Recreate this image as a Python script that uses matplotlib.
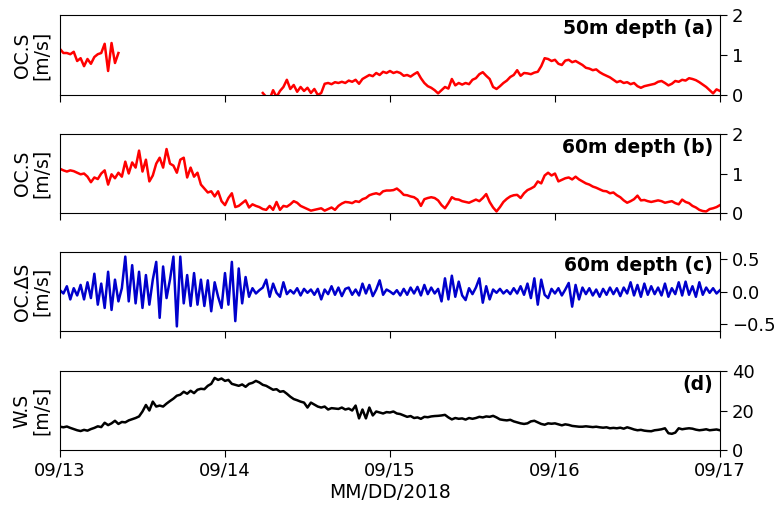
import numpy as np
import pandas as pd
import matplotlib
matplotlib.use("Agg")
import matplotlib.pyplot as plt
import matplotlib.dates as mdates

# half-hourly samples, 09/13 00:00 -> 09/17 00:00 (193 points)
times = pd.date_range("2018-09-13", periods=193, freq="30min")

# ocean current speed at 50m, record missing for most of 09/13 - 09/14
speed_50m = ([1.15, 1.05, 1.05, 1.02, 1.08, 0.85, 0.92, 0.72, 0.90, 0.78, 0.95, 1.02,
              1.05, 1.28, 0.60, 1.30, 0.80, 1.05]
             + [np.nan] * 41
             + [0.05, -0.05, -0.10, 0.12, -0.05, 0.10, 0.20, 0.38, 0.15, 0.25, 0.08, 0.20,
                0.10, 0.18, 0.05, 0.15, 0.00, 0.05, 0.28, 0.30, 0.27, 0.32, 0.30, 0.33,
                0.30, 0.36, 0.33, 0.38, 0.28, 0.40, 0.45, 0.50, 0.47, 0.55, 0.50, 0.58,
                0.55, 0.60]
             + [0.55, 0.58, 0.55, 0.48, 0.50, 0.46, 0.52, 0.57, 0.42, 0.30, 0.22, 0.18,
                0.12, 0.04, 0.12, 0.20, 0.16, 0.40, 0.24, 0.30, 0.26, 0.30, 0.27, 0.38,
                0.42, 0.52, 0.57, 0.48, 0.40, 0.20, 0.15, 0.22, 0.30, 0.36, 0.45, 0.50,
                0.62, 0.48, 0.55, 0.54, 0.52, 0.56, 0.58, 0.72, 0.92, 0.90, 0.85, 0.88,
                0.78, 0.75, 0.86, 0.88, 0.82, 0.85, 0.80, 0.75, 0.68, 0.66, 0.62, 0.64,
                0.57, 0.52, 0.48, 0.44, 0.38, 0.32, 0.35, 0.30, 0.32, 0.27, 0.30, 0.22,
                0.18, 0.22, 0.24, 0.26, 0.28, 0.33, 0.35, 0.30, 0.24, 0.28, 0.35, 0.33,
                0.38, 0.36, 0.42, 0.40, 0.37, 0.32, 0.26, 0.20, 0.12, 0.04, 0.14, 0.10])

# ocean current speed at 60m
speed_60m = [1.12, 1.08, 1.05, 1.08, 1.06, 1.02, 0.98, 1.00, 0.92, 0.78, 0.90, 0.86,
             1.00, 1.08, 0.72, 0.98, 0.88, 1.02, 0.92, 1.30, 1.00, 1.28, 1.15, 1.58,
             1.05, 1.35, 0.80, 0.95, 1.25, 1.40, 1.15, 1.62, 1.25, 1.20, 1.02, 1.35,
             1.40, 0.90, 1.15, 0.92, 1.02, 0.72, 0.62, 0.52, 0.55, 0.42, 0.55, 0.30,
             0.20, 0.38, 0.50, 0.15, 0.18, 0.25, 0.32, 0.14, 0.22, 0.18, 0.15, 0.10,
             0.08, 0.18, 0.08, 0.28, 0.08, 0.18, 0.16, 0.22, 0.30, 0.26, 0.18, 0.14,
             0.10, 0.06, 0.08, 0.10, 0.12, 0.06, 0.10, 0.14, 0.08, 0.18, 0.24, 0.28,
             0.27, 0.25, 0.30, 0.28, 0.35, 0.38, 0.45, 0.48, 0.50, 0.47, 0.55, 0.57,
             0.57, 0.58, 0.62, 0.55, 0.46, 0.45, 0.42, 0.40, 0.34, 0.18, 0.35, 0.38,
             0.40, 0.38, 0.32, 0.20, 0.12, 0.25, 0.40, 0.35, 0.34, 0.30, 0.28, 0.26,
             0.30, 0.34, 0.30, 0.38, 0.48, 0.28, 0.14, 0.04, 0.15, 0.28, 0.36, 0.42,
             0.45, 0.46, 0.38, 0.50, 0.58, 0.62, 0.67, 0.80, 0.75, 0.95, 1.02, 0.95,
             1.00, 0.80, 0.84, 0.88, 0.90, 0.85, 0.92, 0.85, 0.80, 0.75, 0.72, 0.67,
             0.64, 0.60, 0.56, 0.55, 0.50, 0.52, 0.45, 0.40, 0.32, 0.26, 0.30, 0.35,
             0.44, 0.32, 0.33, 0.30, 0.28, 0.30, 0.32, 0.30, 0.26, 0.28, 0.30, 0.25,
             0.22, 0.34, 0.28, 0.25, 0.18, 0.14, 0.08, 0.05, 0.04, 0.10, 0.12, 0.15,
             0.20]

# step-to-step change of the 60m speed
delta_60m = [0.02, -0.03, 0.08, -0.12, 0.05, -0.06, 0.10, -0.12, 0.14, -0.10, 0.27, -0.20,
             0.12, -0.25, 0.30, -0.28, 0.18, -0.15, 0.05, 0.53, -0.15, 0.40, -0.18, 0.30,
             -0.25, 0.25, -0.20, 0.18, 0.45, -0.40, 0.38, -0.10, 0.18, 0.53, -0.53, 0.53,
             -0.18, 0.25, -0.22, 0.28, -0.20, 0.18, -0.22, 0.17, -0.30, 0.14, -0.08, -0.25,
             0.28, -0.20, 0.45, -0.45, 0.35, -0.18, 0.22, -0.08, 0.05, -0.03, 0.02, 0.06,
             0.18, -0.08, 0.12, -0.02, -0.08, 0.14, -0.04, 0.02, -0.03, 0.05, -0.06, 0.04,
             -0.02, 0.03, -0.05, 0.04, -0.12, 0.03, -0.04, 0.08, -0.05, 0.06, -0.07, 0.04,
             0.06, -0.05, 0.03, -0.06, 0.12, -0.03, 0.10, -0.07, 0.03, 0.17, -0.05, 0.03,
             0.00, -0.04, 0.02, -0.06, 0.04, -0.05, 0.06, -0.03, 0.07, -0.06, 0.10, -0.04,
             0.06, -0.03, 0.04, -0.15, 0.20, -0.12, 0.24, -0.08, 0.15, -0.06, -0.13, 0.05,
             -0.04, 0.06, 0.20, -0.17, 0.08, -0.12, 0.03, -0.02, 0.04, -0.03, 0.02, -0.04,
             0.05, -0.03, 0.08, -0.05, 0.12, -0.10, 0.20, -0.20, 0.18, -0.05, -0.10, 0.04,
             -0.03, 0.05, -0.06, 0.03, 0.13, -0.23, 0.10, -0.12, 0.06, -0.04, 0.05, -0.06,
             0.03, -0.08, 0.04, -0.05, 0.06, -0.04, 0.05, -0.07, 0.06, -0.03, 0.14, -0.06,
             0.10, -0.08, 0.12, -0.05, 0.08, -0.04, 0.06, -0.06, 0.12, -0.08, 0.05, -0.04,
             0.14, -0.06, 0.15, -0.05, 0.08, -0.08, 0.14, -0.05, 0.06, -0.02, 0.05, -0.03,
             0.02]

# wind speed
wind_speed = [11.8, 11.5, 11.9, 11.2, 10.6, 10.0, 9.6, 10.2, 9.8, 10.6, 11.2, 12.0,
              11.6, 13.8, 12.6, 13.5, 14.8, 13.2, 14.2, 14.0, 15.0, 15.6, 16.2, 17.0,
              19.5, 22.8, 20.0, 24.5, 22.0, 22.5, 22.0, 23.5, 24.8, 26.0, 27.5, 28.0,
              29.5, 28.5, 30.0, 28.8, 30.5, 31.0, 30.8, 32.5, 33.5, 36.5, 35.5, 36.2,
              35.0, 35.5, 33.5, 33.0, 32.5, 33.2, 32.0, 33.5, 34.0, 35.0, 34.2, 33.0,
              32.5, 31.5, 30.5, 30.8, 29.5, 29.8, 28.5, 27.0, 25.8, 25.2, 24.5, 24.0,
              21.5, 24.0, 23.0, 22.0, 21.5, 22.0, 20.5, 21.2, 21.0, 20.8, 21.5, 20.5,
              21.0, 20.0, 22.5, 16.0, 20.5, 16.0, 21.5, 17.5, 19.5, 19.0, 18.5, 19.2,
              19.0, 19.5, 18.5, 18.2, 17.5, 16.8, 17.2, 16.2, 16.5, 15.8, 16.8, 16.6,
              17.0, 17.2, 17.3, 17.5, 17.8, 16.5, 15.5, 16.2, 15.8, 16.0, 15.4, 16.2,
              15.8, 16.2, 16.8, 16.5, 17.0, 16.8, 17.3, 16.5, 15.5, 15.2, 15.0, 15.3,
              14.5, 14.0, 13.5, 13.2, 13.5, 14.5, 14.8, 14.0, 13.2, 12.8, 13.5, 13.3,
              13.5, 13.0, 12.5, 13.0, 12.7, 12.2, 12.0, 11.8, 11.8, 12.0, 11.8, 11.6,
              11.8, 11.5, 11.3, 11.5, 11.0, 11.2, 11.0, 11.3, 10.8, 11.5, 11.0, 10.4,
              10.0, 10.2, 9.8, 9.6, 9.5, 10.0, 10.2, 10.5, 11.0, 8.5, 8.2, 8.8,
              11.0, 10.5, 10.8, 11.0, 10.8, 10.3, 10.0, 10.2, 10.5, 10.0, 10.2, 10.4,
              10.0]

panels = [
    (speed_50m, "red", "OC.S\n[m/s]", "50m depth (a)", (0, 2), [0, 1, 2], False),
    (speed_60m, "red", "OC.S\n[m/s]", "60m depth (b)", (0, 2), [0, 1, 2], False),
    (delta_60m, "#0000cc", "OC.ΔS\n[m/s]", "60m depth (c)", (-0.6, 0.6), [-0.5, 0.0, 0.5], True),
    (wind_speed, "black", "W.S\n[m/s]", "(d)", (0, 40), [0, 20, 40], False),
]

plt.rcParams["font.family"] = ["DejaVu Sans"]
fig = plt.figure(figsize=(7.78, 5.09), dpi=100)

# axes boxes in figure fractions: left, bottom, width, height
boxes = [(0.0771, 0.8134, 0.8483, 0.1571),
         (0.0771, 0.5815, 0.8483, 0.1552),
         (0.0771, 0.3497, 0.8483, 0.1552),
         (0.0771, 0.1159, 0.8483, 0.1552)]

for i, (vals, color, ylab, title, ylim, yticks, one_decimal) in enumerate(panels):
    assert len(vals) == len(times)
    ax = fig.add_axes(boxes[i])
    ax.plot(times, vals, color=color, lw=1.8)
    ax.set_xlim(pd.Timestamp("2018-09-13"), pd.Timestamp("2018-09-17"))
    ax.set_ylim(*ylim)
    ax.set_yticks(yticks)
    if one_decimal:
        ax.set_yticklabels([f"{t:.1f}".replace("-", "\u2212") for t in yticks])
    ax.yaxis.tick_right()
    ax.set_ylabel(ylab, fontsize=13.5, linespacing=1.0)
    ax.yaxis.set_label_position("left")
    ax.yaxis.set_label_coords(-0.014, 0.5)
    ax.tick_params(labelsize=13, length=5)
    ax.xaxis.set_major_locator(mdates.DayLocator())
    ax.xaxis.set_major_formatter(mdates.DateFormatter("%m/%d"))
    ax.text(0.99, 0.95, title, transform=ax.transAxes, ha="right", va="top",
            fontsize=13.5, fontweight="bold")
    if i < 3:
        ax.tick_params(labelbottom=False)
    else:
        ax.set_xlabel("MM/DD/2018", fontsize=13.5, labelpad=2)

fig.savefig("out.png", dpi=100)
